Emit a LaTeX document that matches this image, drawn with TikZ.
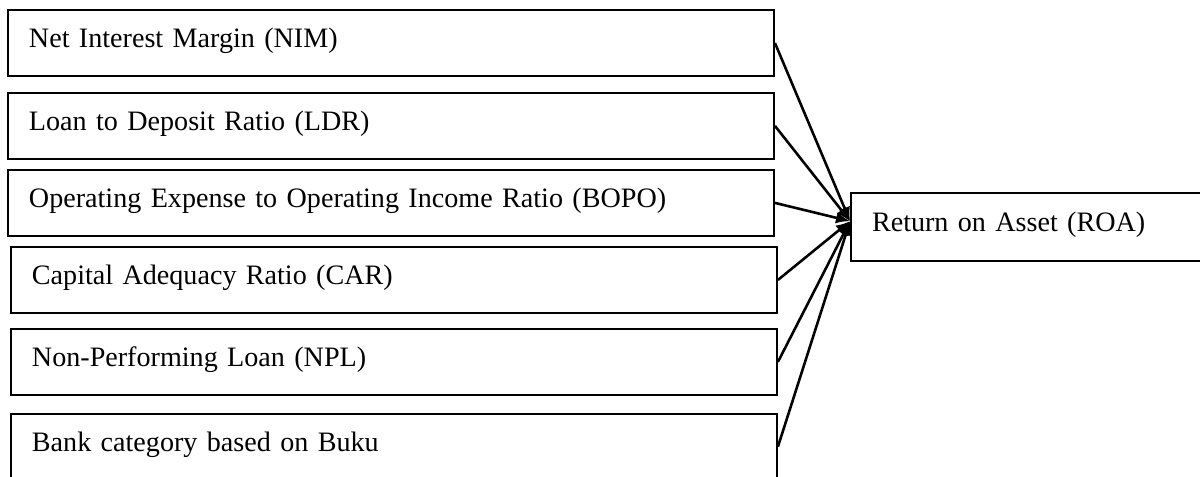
\documentclass[tikz,border=0pt]{standalone}
\usepackage{fontspec}
\setmainfont{Liberation Serif}
\usetikzlibrary{positioning,arrows.meta}

\begin{document}
\begin{tikzpicture}[
    x=0.015cm, y=-0.015cm,
    factor/.style={
      % The shape:
      rectangle,
      draw=black,
      line width=0.8pt,
      % The size:
      minimum width=11.49cm,
      minimum height=0.99cm,
      text width=10.86cm,
      inner xsep=0.315cm,
      align=left,
      % Font
      font=\fontsize{12pt}{14pt}\selectfont,
      text height=8pt,
      text depth=4pt,
    },
    outcome/.style={
      factor,
      minimum width=5.4cm,
      minimum height=1.02cm,
      text width=4.77cm,
    },
    influence/.style={-{Latex[length=6pt,width=5pt]}, line width=1.1pt, color=black},
  ]

    \useasboundingbox (0,0) rectangle (1200,476);

    \node[factor] (nim) at (391,43) {Net Interest Margin (NIM)};
    \node[factor] (ldr) [below=6.4pt of nim] {Loan to Deposit Ratio (LDR)};
    \node[factor] (bopo) [below=3.9pt of ldr] {Operating Expense to Operating Income Ratio (BOPO)};
    \node[factor] (car) [below=3.9pt of bopo, xshift=1.28pt] {Capital Adequacy Ratio (CAR)};
    \node[factor] (npl) [below=6pt of car] {Non-Performing Loan (NPL)};
    \node[factor] (buku) [below=7.2pt of npl] {Bank category based on Buku};

    \node[outcome] (roa) at (1031,227) {Return on Asset (ROA)};
    \coordinate (hub) at ([yshift=2.5pt]roa.west);

    % every factor points at ROA
    \draw[influence] (nim.east) -- (hub);
    \draw[influence] (ldr.east) -- (hub);
    \draw[influence] (bopo.east) -- (hub);
    \draw[influence] (car.east) -- (hub);
    \draw[influence] (npl.east) -- (hub);
    \draw[influence] (buku.east) -- (hub);
  \end{tikzpicture}
\end{document}
